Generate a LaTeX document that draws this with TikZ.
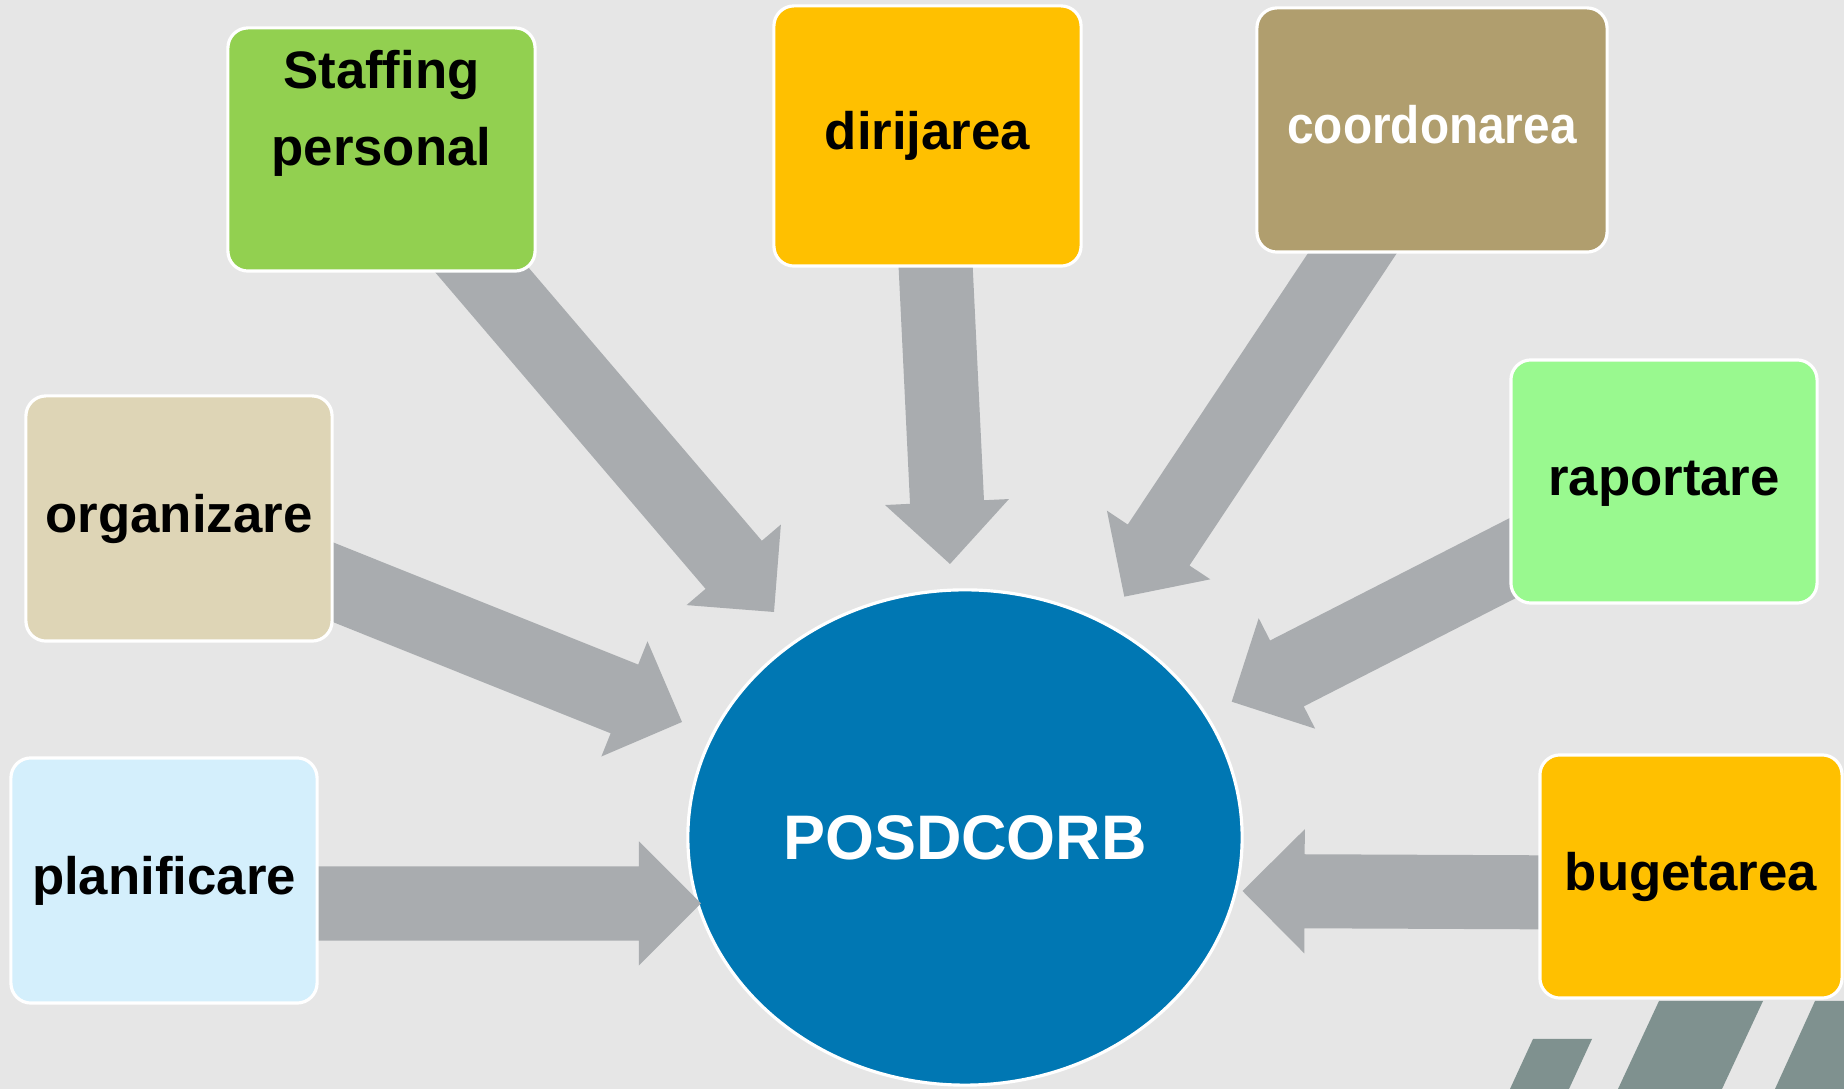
\documentclass[tikz,border=0pt]{standalone}
\usepackage{fontspec}
\usepackage{graphicx}
\newfontfamily\lblfont{Liberation Sans}[Ligatures=NoCommon]
\usetikzlibrary{shapes.geometric,calc}
\pgfdeclarelayer{back}
\pgfdeclarelayer{mid}
\pgfsetlayers{back,mid,main}

\definecolor{bgcol}{HTML}{E6E6E6}
\definecolor{arrowcol}{HTML}{A9ACAF}
\definecolor{stripecol}{HTML}{7F918F}
\definecolor{hubcol}{HTML}{0077B3}
\definecolor{cstaff}{HTML}{92D050}
\definecolor{cgold}{HTML}{FFC000}
\definecolor{ccoord}{HTML}{B09E6E}
\definecolor{corg}{HTML}{DED5B6}
\definecolor{crap}{HTML}{99F98F}
\definecolor{cplan}{HTML}{D4EFFC}

\newcommand\blockarrow[2]{%
  \path ($(#2)!0.62cm!(#1)$) coordinate (ahb);
  \fill[arrowcol] ($(#1)!0.37cm!90:(#2)$) -- ($(ahb)!0.37cm!90:(#2)$)
    -- ($(ahb)!0.62cm!90:(#2)$) -- (#2) -- ($(ahb)!0.62cm!-90:(#2)$)
    -- ($(ahb)!0.37cm!-90:(#2)$) -- ($(#1)!0.37cm!-90:(#2)$) -- cycle;
}

\begin{document}
\begin{tikzpicture}[x=0.01cm,y=-0.01cm,
  boxfont/.style={font=\lblfont\bfseries\fontsize{15}{18}\selectfont},
  box/.style={rectangle, rounded corners=0.2cm, draw=white, line width=0.9pt,
    inner sep=0pt, boxfont, text height=10.8pt, text depth=3pt},
  lbl/.style={inner sep=0pt, boxfont, text height=10.8pt, text depth=3pt},
  hub/.style={ellipse, fill=hubcol, draw=white, line width=0.9pt, inner sep=0pt,
    minimum width=5.54cm, minimum height=4.95cm, text=white,
    font=\lblfont\bfseries\fontsize{17.9}{21}\selectfont}]
\useasboundingbox (0,0) rectangle (1844,1089);

\begin{pgfonlayer}{back}
  \fill[bgcol] (0,0) rectangle (1844,1089);
  \fill[stripecol] (1533,1039) -- (1592,1039) -- (1569,1089) -- (1510,1089) -- cycle;
  \fill[stripecol] (1659,1001) -- (1763,1001) -- (1722,1089) -- (1618,1089) -- cycle;
  \fill[stripecol] (1815,1001) -- (1844,1001) -- (1844,1089) -- (1775,1089) -- cycle;
  \node[hub] (posd) at (965,837.5) {POSDCORB};
\end{pgfonlayer}

% boxes
\node[box, fill=cstaff, minimum width=3.07cm, minimum height=2.43cm] (staff) at (381.5,149.5) {};
\node[lbl, anchor=base] (staffA) at (381.5,89) {Staffing};
\node[lbl, anchor=base] (staffB) at (381.5,166) {personal};
\node[box, fill=cgold, minimum width=3.07cm, minimum height=2.60cm] (dir) at (927.5,136) {dirijarea};
\node[box, fill=ccoord, text=white, minimum width=3.50cm, minimum height=2.44cm] (coord) at (1432,130) {\scalebox{0.905}[1]{coordonarea}};
\node[box, fill=corg, minimum width=3.06cm, minimum height=2.45cm] (org) at (179,518.5) {organizare};
\node[box, fill=crap, minimum width=3.06cm, minimum height=2.43cm] (rap) at (1664,481.5) {raportare};
\node[box, fill=cplan, minimum width=3.06cm, minimum height=2.45cm] (plan) at (164,880.5) {planificare};
\node[box, fill=cgold, minimum width=3.02cm, minimum height=2.43cm] (bug) at (1691,876.5) {bugetarea};

% connector end points
\coordinate (s1) at ($(plan.center)+(12,23)$);
\coordinate (t1) at (701,903.5);
\coordinate (s2) at ($(org.center)+(121,50.5)$);
\coordinate (t2) at (682,722);
\coordinate (s3) at ($(staff.center)+(70.5,85.5)$);
\coordinate (t3) at (774,612);
\coordinate (s4) at ($(dir.center)+(5.5,76)$);
\coordinate (t4) at (950,564);
\coordinate (s5) at ($(coord.center)+(-31,50)$);
\coordinate (t5) at (1124.3,596.7);
\coordinate (s6) at ($(rap.center)+(-18,8.5)$);
\coordinate (t6) at (1231.7,701.7);
\coordinate (s7) at ($(bug.center)+(-1,16.5)$);
\coordinate (t7) at (1242.5,891);

\begin{pgfonlayer}{mid}
  \blockarrow{s1}{t1}
  \blockarrow{s2}{t2}
  \blockarrow{s3}{t3}
  \blockarrow{s4}{t4}
  \blockarrow{s5}{t5}
  \blockarrow{s6}{t6}
  \blockarrow{s7}{t7}
\end{pgfonlayer}
\end{tikzpicture}
\end{document}
